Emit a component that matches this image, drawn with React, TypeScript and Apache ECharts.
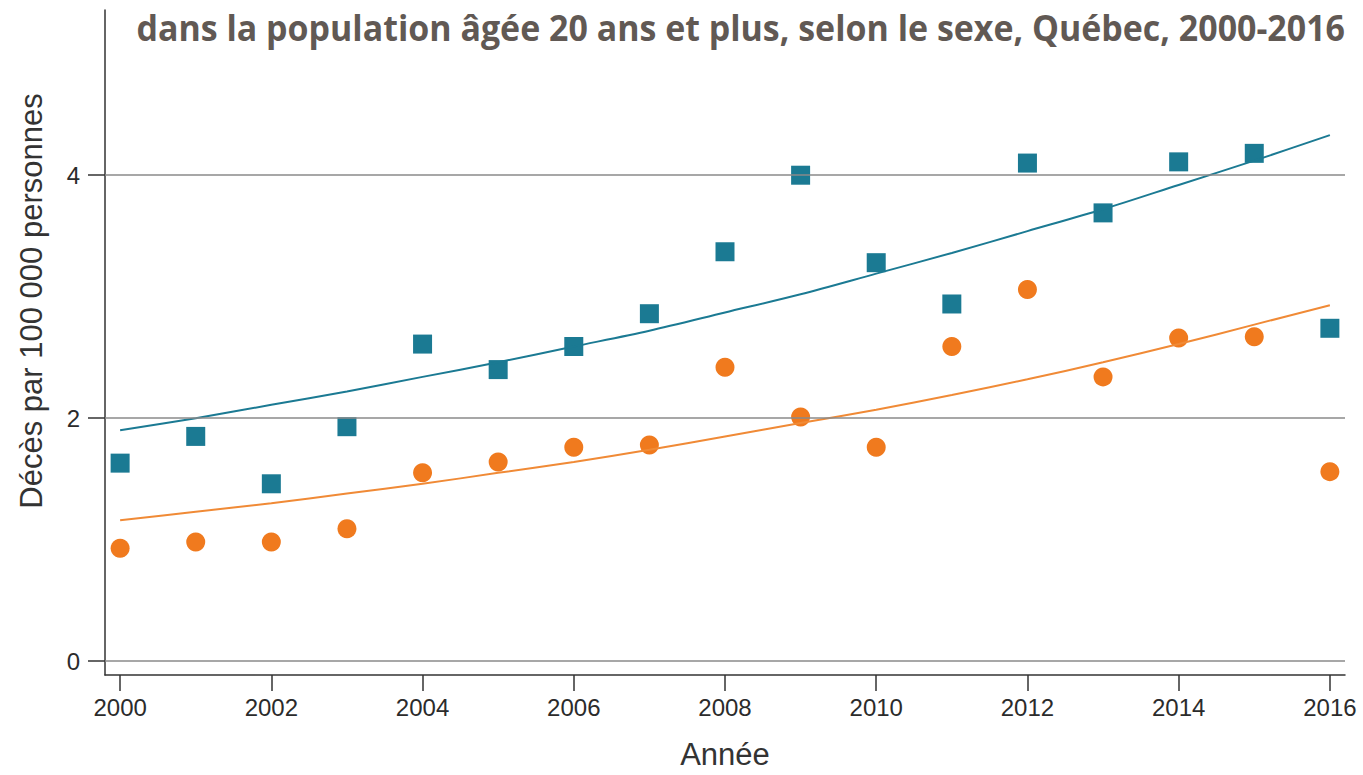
import React, { useEffect, useRef } from "react";
import * as echarts from "echarts";

const years = [2000, 2001, 2002, 2003, 2004, 2005, 2006, 2007, 2008, 2009, 2010, 2011, 2012, 2013, 2014, 2015, 2016];
const hommes = [1.63, 1.85, 1.46, 1.93, 2.61, 2.40, 2.59, 2.86, 3.37, 4.00, 3.28, 2.94, 4.10, 3.69, 4.11, 4.18, 2.74];
const femmes = [0.93, 0.98, 0.98, 1.09, 1.55, 1.64, 1.76, 1.78, 2.42, 2.01, 1.76, 2.59, 3.06, 2.34, 2.66, 2.67, 1.56];
const tendanceHommes = [1.90, 2.00, 2.11, 2.22, 2.34, 2.46, 2.59, 2.72, 2.87, 3.02, 3.19, 3.36, 3.54, 3.72, 3.92, 4.12, 4.33];
const tendanceFemmes = [1.16, 1.23, 1.30, 1.38, 1.46, 1.55, 1.64, 1.74, 1.85, 1.96, 2.07, 2.19, 2.32, 2.46, 2.61, 2.77, 2.93];
const xTicks = [2000, 2002, 2004, 2006, 2008, 2010, 2012, 2014, 2016];
const yTicks = [0, 2, 4];

const titre = "dans la population âgée 20 ans et plus, selon le sexe, Québec, 2000-2016";
const nomAxeY = "Décès par 100 000 personnes";
const nomAxeX = "Année";
const BLUE = "#1b7a93";
const ORANGE = "#f07a1e";

export default function App() {
  const ref = useRef<HTMLDivElement>(null);
  useEffect(() => {
    document.body.style.margin = "0";
    const chart = echarts.init(ref.current!, null, { renderer: "svg" });
    const pair = (vals: number[]) => years.map((y, i) => [y, vals[i]]);
    chart.setOption({
      animation: false,
      backgroundColor: "#ffffff",
      textStyle: { fontFamily: "Liberation Sans" },
      grid: { left: 105, right: 18, top: 10, bottom: 92 },
      graphic: [
        {
          type: "text",
          x: 1345,
          y: 27,
          scaleX: 0.97,
          style: {
            text: titre,
            x: 0,
            y: 0,
            textAlign: "right",
            textVerticalAlign: "middle",
            fontFamily: "Open Sans",
            fontWeight: "bold",
            fontSize: 35,
            fill: "#615954",
          },
        },
        {
          type: "text",
          x: 31,
          y: 301,
          rotation: Math.PI / 2,
          style: {
            text: nomAxeY,
            x: 0,
            y: 0,
            textAlign: "center",
            textVerticalAlign: "middle",
            fontFamily: "Liberation Sans",
            fontSize: 31,
            fill: "#333333",
          },
        },
      ],
      xAxis: {
        type: "value",
        min: 1999.8,
        max: 2016.2,
        name: nomAxeX,
        nameLocation: "middle",
        nameGap: 64,
        nameTextStyle: { fontSize: 31, color: "#333333", fontFamily: "Liberation Sans" },
        axisLine: { show: true, onZero: false, lineStyle: { color: "#333333", width: 1.5 } },
        axisTick: { show: true, customValues: xTicks, length: 16, lineStyle: { color: "#333333", width: 1.5 } },
        axisLabel: {
          customValues: xTicks,
          margin: 20,
          fontSize: 24,
          color: "#2b2b2b",
          formatter: (v: number) => String(v),
        },
        splitLine: { show: false },
      },
      yAxis: {
        type: "value",
        min: -0.114,
        max: 5.36,
        axisLine: { show: true, onZero: false, lineStyle: { color: "#333333", width: 1.5 } },
        axisTick: { show: true, customValues: yTicks, length: 17, lineStyle: { color: "#333333", width: 1.5 } },
        axisLabel: { customValues: yTicks, margin: 25, fontSize: 24, color: "#2b2b2b" },
        splitLine: { show: false },
      },
      series: [
        {
          name: "Grille",
          type: "line",
          data: [],
          silent: true,
          markLine: {
            silent: true,
            symbol: ["none", "none"],
            label: { show: false },
            lineStyle: { color: "#8a8a8a", width: 1.5, type: "solid" },
            data: yTicks.map((v) => ({ yAxis: v })),
          },
        },
        {
          name: "Tendance hommes",
          type: "line",
          data: pair(tendanceHommes),
          showSymbol: false,
          symbol: "none",
          smooth: 0.3,
          lineStyle: { color: BLUE, width: 2 },
          z: 3,
        },
        {
          name: "Tendance femmes",
          type: "line",
          data: pair(tendanceFemmes),
          showSymbol: false,
          symbol: "none",
          smooth: 0.3,
          lineStyle: { color: "#f08a36", width: 2 },
          z: 3,
        },
        {
          name: "Hommes",
          type: "scatter",
          data: pair(hommes),
          symbol: "rect",
          symbolSize: 19,
          itemStyle: { color: BLUE, opacity: 1 },
          z: 2,
        },
        {
          name: "Femmes",
          type: "scatter",
          data: pair(femmes),
          symbol: "circle",
          symbolSize: 19,
          itemStyle: { color: ORANGE, opacity: 1 },
          z: 2,
        },
      ],
    });
    return () => chart.dispose();
  }, []);
  return <div ref={ref} style={{ position: "fixed", left: 0, top: 0, width: 1363, height: 775 }} />;
}
